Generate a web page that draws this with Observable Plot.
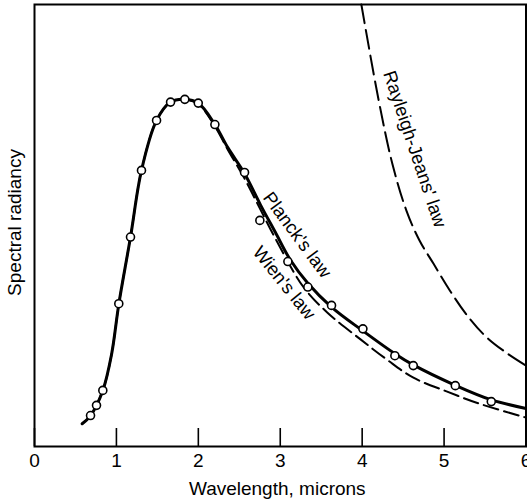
<!DOCTYPE html>
<html><head><meta charset="utf-8">
<script src="https://cdn.jsdelivr.net/npm/d3@7"></script>
<script src="https://cdn.jsdelivr.net/npm/@observablehq/plot@0.6"></script>
<style>body{margin:0;background:#fff}</style>
</head><body><div id="chart"></div>
<script>
// Wavelength (microns) and relative spectral radiancy
const planckX = [0.582, 0.684, 0.834, 0.94, 1.03, 1.172, 1.306, 1.49, 1.661, 1.835, 1.999, 2.202, 2.36, 2.564, 2.76, 2.94, 3.12, 3.337, 3.626, 4.009, 4.399, 4.624, 5.137, 5.58, 6.0];
const planckY = [6.7, 9.1, 16.5, 27, 42, 61.6, 81.2, 95.9, 101.3, 102.1, 101.0, 94.7, 87.9, 80.3, 71.0, 63.0, 55.0, 48.0, 41.0, 34.0, 27.3, 24.0, 18.0, 13.7, 11.2];

const wienX = [0.582, 0.684, 0.834, 0.94, 1.03, 1.172, 1.306, 1.49, 1.661, 1.835, 1.999, 2.202, 2.36, 2.564, 2.76, 2.94, 3.28, 3.57, 3.98, 4.30, 4.62, 5.03, 5.43, 6.0];
const wienY = [6.7, 9.1, 16.5, 27, 42, 61.6, 81.2, 95.9, 101.3, 102.0, 100.7, 94.2, 87.3, 78.8, 69.6, 61.2, 47.0, 39.5, 31.5, 25.6, 20.3, 16.2, 12.6, 8.5];

const rjX = [3.99, 4.20, 4.37, 4.54, 4.70, 4.87, 5.07, 5.28, 5.52, 5.77, 6.0];
const rjY = [130, 102, 83, 69.4, 60.6, 53.8, 45.9, 38.6, 32.1, 27.4, 23.8];

const obsX = [0.684, 0.757, 0.834, 1.029, 1.172, 1.306, 1.49, 1.661, 1.835, 1.999, 2.202, 2.564, 2.751, 3.093, 3.337, 3.626, 4.009, 4.399, 4.624, 5.137, 5.576];
const obsY = [9.1, 12.1, 16.5, 42.0, 61.6, 81.2, 95.9, 101.3, 102.1, 101.0, 94.7, 80.6, 66.5, 54.4, 46.9, 41.5, 34.6, 26.7, 23.8, 17.9, 13.2];

const xTicks = [0, 1, 2, 3, 4, 5, 6];
const curveLabels = ["Planck's law", "Wien's law", "Rayleigh-Jeans' law"];
const labelX = [3.205, 3.046, 4.64];
const labelY = [62.2, 48.1, 87.5];
const labelAngle = [53.5, 51.2, 71.5];

const planck = planckX.map((x, i) => ({x, y: planckY[i]}));
const wien = wienX.map((x, i) => ({x, y: wienY[i]}));
const rj = rjX.map((x, i) => ({x, y: rjY[i]}));
const obs = obsX.map((x, i) => ({x, y: obsY[i]}));
const labels = curveLabels.map((t, i) => ({t, x: labelX[i], y: labelY[i], a: labelAngle[i]}));

const font = "'Liberation Sans', Arial, Helvetica, sans-serif";
const chart = Plot.plot({
  width: 527,
  height: 500,
  marginLeft: 34,
  marginRight: 1.5,
  marginTop: 4,
  marginBottom: 54,
  style: {fontFamily: font, color: "black", background: "white"},
  x: {domain: [0, 6]},
  y: {domain: [0, 130], axis: null},
  marks: [
    Plot.line(rj, {x: "x", y: "y", curve: "catmull-rom", stroke: "black", strokeWidth: 2, strokeDasharray: "19,7"}),
    Plot.line(wien, {x: "x", y: "y", curve: "catmull-rom", stroke: "black", strokeWidth: 2, strokeDasharray: "15,6"}),
    Plot.line(planck, {x: "x", y: "y", curve: "catmull-rom", stroke: "black", strokeWidth: 3}),
    Plot.dot(obs, {x: "x", y: "y", r: 4, fill: "white", stroke: "black", strokeWidth: 1.6}),
    Plot.text(labels, {x: "x", y: "y", text: "t", rotate: "a", fontSize: 18.5, fill: "black"}),
    Plot.ruleX(xTicks, {x: d => d, y1: 0, y2: 5.3, stroke: "black", strokeWidth: 1.6}),
    Plot.frame({stroke: "black", strokeWidth: 2}),
    Plot.axisX({ticks: xTicks, tickFormat: d3.format("d"), tickSize: 0, tickPadding: 7, label: null, fontSize: 19, fill: "black"}),
    Plot.text(["Wavelength, microns"], {frameAnchor: "bottom", textAnchor: "middle", lineAnchor: "middle", dy: 42, dx: -3, fontSize: 19, fill: "black"}),
    Plot.text(["Spectral radiancy"], {frameAnchor: "left", textAnchor: "middle", lineAnchor: "middle", rotate: -90, dx: -19.5, dy: -3, fontSize: 19, fill: "black"})
  ]
});
document.getElementById("chart").appendChild(chart);
</script>
</body></html>
